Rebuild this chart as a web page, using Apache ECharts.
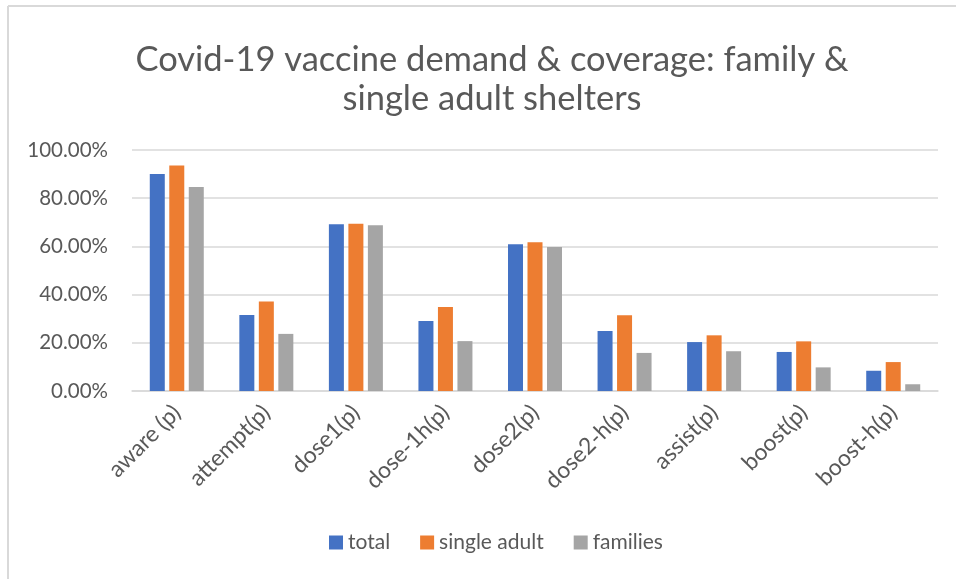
<!DOCTYPE html>
<html>
<head>
<meta charset="utf-8">
<script src="https://cdn.jsdelivr.net/npm/echarts@6/dist/echarts.min.js"></script>
<style>
  html, body { margin: 0; padding: 0; background: #fff; }
  #chart { width: 956px; height: 579px; }
</style>
</head>
<body>
<div id="chart"></div>
<script>
// Share of residents at each stage, by shelter type (fractions of 1)
const categories = ['aware (p)', 'attempt(p)', 'dose1(p)', 'dose-1h(p)', 'dose2(p)', 'dose2-h(p)', 'assist(p)', 'boost(p)', 'boost-h(p)'];
const totalValues = [0.900, 0.315, 0.692, 0.290, 0.609, 0.249, 0.203, 0.162, 0.084];
const singleAdultValues = [0.936, 0.371, 0.694, 0.349, 0.617, 0.314, 0.231, 0.206, 0.120];
const familiesValues = [0.846, 0.237, 0.688, 0.207, 0.598, 0.158, 0.165, 0.098, 0.028];
const seriesNames = ['total', 'single adult', 'families'];
const yTicks = { min: 0, max: 1, interval: 0.2 };

const FONT = 'Lato';
const TEXT = '#595959';
const GRID = '#d9d9d9';
const COLORS = ['#4472C4', '#ED7D31', '#A5A5A5'];

const chart = echarts.init(document.getElementById('chart'), null, { renderer: 'canvas' });

const barSeries = [totalValues, singleAdultValues, familiesValues].map((vals, i) => ({
  name: seriesNames[i],
  type: 'bar',
  data: vals,
  barWidth: 15,
  barGap: '30%',
  itemStyle: { color: COLORS[i] },
  emphasis: { disabled: true }
}));

chart.setOption({
  backgroundColor: '#fff',
  animation: false,
  color: COLORS,
  title: {
    text: 'Covid-19 vaccine demand & coverage: family &\nsingle adult shelters',
    left: 487,
    top: 35,
    textAlign: 'center',
    textStyle: {
      fontFamily: FONT,
      fontWeight: 'normal',
      fontSize: 34.5,
      lineHeight: 39,
      color: TEXT
    }
  },
  graphic: [
    { type: 'line', shape: { x1: 8, y1: 6, x2: 8, y2: 579 }, style: { stroke: GRID, lineWidth: 2 } },
    { type: 'line', shape: { x1: 8, y1: 6, x2: 956, y2: 6 }, style: { stroke: GRID, lineWidth: 2 } }
  ],
  legend: {
    data: seriesNames,
    bottom: 21,
    left: 324,
    icon: 'rect',
    itemWidth: 14,
    itemHeight: 14,
    itemGap: 30,
    textStyle: { fontFamily: FONT, fontSize: 21, color: TEXT }
  },
  grid: { left: 132, right: 18, top: 150, bottom: 188, containLabel: false },
  xAxis: {
    type: 'category',
    data: categories,
    axisLine: { show: true, lineStyle: { color: GRID, width: 1.5 } },
    axisTick: { show: false },
    axisLabel: {
      rotate: 45,
      interval: 0,
      margin: 18,
      fontFamily: FONT,
      fontSize: 23,
      color: TEXT
    }
  },
  yAxis: {
    type: 'value',
    min: yTicks.min,
    max: yTicks.max,
    interval: yTicks.interval,
    axisLine: { show: false },
    axisTick: { show: false },
    splitLine: { lineStyle: { color: GRID, width: 1.5 } },
    axisLabel: {
      margin: 24,
      fontFamily: FONT,
      fontSize: 20.5,
      color: TEXT,
      formatter: v => (v * 100).toFixed(2) + '%'
    }
  },
  series: barSeries
});
</script>
</body>
</html>
